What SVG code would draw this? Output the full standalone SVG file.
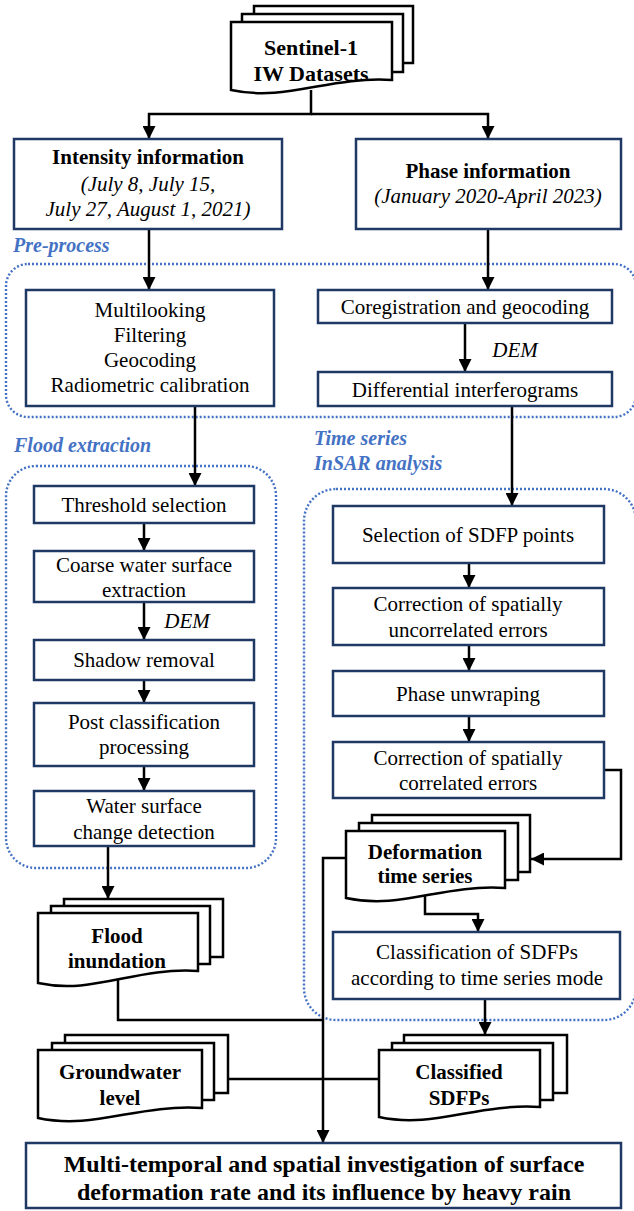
<svg xmlns="http://www.w3.org/2000/svg" width="634" height="1211" viewBox="0 0 634 1211">
<style>
.bg{fill:#ffffff}
.region{fill:none;stroke:#4472C4;stroke-width:2.4;stroke-dasharray:2 2}
.box{fill:#ffffff;stroke:#1F3864;stroke-width:2.5}
.doc{fill:#ffffff;stroke:#000000;stroke-width:2.5}
.conn{fill:none;stroke:#000000;stroke-width:2.5}
.arr{marker-end:url(#ah)}
text{font-family:"Liberation Serif","Times New Roman",serif;fill:#000000;text-anchor:middle}
.t{font-size:21px}
.b{font-size:21px;font-weight:bold}
.i{font-size:21px;font-style:italic}
.lbl{font-size:20px;font-weight:bold;font-style:italic;fill:#4472C4;text-anchor:start}
.big{font-size:24px;font-weight:bold}
</style>
<defs>
<marker id="ah" markerUnits="userSpaceOnUse" markerWidth="13" markerHeight="13" refX="13" refY="6.5" orient="auto">
<path d="M0,0 L13,6.5 L0,13 Z" fill="#000000"/>
</marker>
</defs>
<rect class="bg" x="0" y="0" width="634" height="1211"/>

<g id="regions">
<rect class="region" x="6" y="264" width="630" height="153" rx="22"/>
<rect class="region" x="6" y="466" width="270" height="402" rx="30"/>
<rect class="region" x="304" y="489" width="332" height="531" rx="32"/>
<text class="lbl" x="13" y="252">Pre-process</text>
<text class="lbl" x="14" y="452">Flood extraction</text>
<text class="lbl" x="314" y="445">Time series</text>
<text class="lbl" x="314" y="470">InSAR analysis</text>
</g>

<g id="connectors">
<path class="conn arr" d="M311,90 V114 H149 V139"/>
<path class="conn arr" d="M311,114 H488 V139"/>
<path class="conn arr" d="M149,229 V290"/>
<path class="conn arr" d="M488,229 V290"/>
<path class="conn arr" d="M465,323 V372"/>
<path class="conn arr" d="M195,406 V486"/>
<path class="conn arr" d="M512,406 V506"/>
<path class="conn arr" d="M144,523 V551"/>
<path class="conn arr" d="M144,602 V640"/>
<path class="conn arr" d="M144,680 V703"/>
<path class="conn arr" d="M144,766 V791"/>
<path class="conn arr" d="M108,846 V899"/>
<path class="conn arr" d="M469,563 V588"/>
<path class="conn arr" d="M469,645 V671"/>
<path class="conn arr" d="M469,716 V742"/>
<path class="conn arr" d="M604,770 H621 V859 H531"/>
<path class="conn arr" d="M425,890 V914 H478 V932"/>
<path class="conn arr" d="M485,999 V1035"/>
<path class="conn" d="M118,975 V1020 H323"/>
<path class="conn arr" d="M350,858 H323 V1143"/>
<path class="conn" d="M220,1079 H385"/>
<text class="i" x="515" y="357">DEM</text>
<text class="i" x="187" y="628">DEM</text>
</g>

<g id="sentinel">
<rect class="doc" x="254" y="6" width="159" height="57"/>
<rect class="doc" x="242" y="14" width="161" height="58"/>
<path class="doc" d="M231,22 H392 V80 C328,76 287,102 231,90 Z"/>
<text class="b" x="311" y="55" style="font-size:22px">Sentinel-1</text>
<text class="b" x="311" y="81" style="font-size:22px">IW Datasets</text>
</g>

<g id="intensity">
<rect class="box" x="14" y="139" width="268" height="90"/>
<text class="b" x="148" y="164">Intensity information</text>
<text class="i" x="148" y="191">(July 8, July 15,</text>
<text class="i" x="148" y="216">July 27, August 1, 2021)</text>
</g>

<g id="phase">
<rect class="box" x="356" y="139" width="265" height="90"/>
<text class="b" x="488" y="178">Phase information</text>
<text class="i" x="488" y="203">(January 2020-April 2023)</text>
</g>

<g id="multilooking">
<rect class="box" x="26" y="290" width="248" height="116"/>
<text class="t" x="150" y="317">Multilooking</text>
<text class="t" x="150" y="342">Filtering</text>
<text class="t" x="150" y="367">Geocoding</text>
<text class="t" x="150" y="392">Radiometric calibration</text>
</g>

<g id="coregistration">
<rect class="box" x="318" y="290" width="294" height="33"/>
<text class="t" x="465" y="314">Coregistration and geocoding</text>
</g>

<g id="differential">
<rect class="box" x="318" y="372" width="294" height="34"/>
<text class="t" x="465" y="397">Differential interferograms</text>
</g>

<g id="threshold">
<rect class="box" x="34" y="486" width="220" height="37"/>
<text class="t" x="144" y="512">Threshold selection</text>
</g>

<g id="coarse">
<rect class="box" x="34" y="551" width="220" height="51"/>
<text class="t" x="144" y="572">Coarse water surface</text>
<text class="t" x="144" y="597">extraction</text>
</g>

<g id="shadow">
<rect class="box" x="34" y="640" width="220" height="40"/>
<text class="t" x="144" y="667">Shadow removal</text>
</g>

<g id="postclass">
<rect class="box" x="34" y="703" width="220" height="63"/>
<text class="t" x="144" y="729">Post classification</text>
<text class="t" x="144" y="754">processing</text>
</g>

<g id="waterchange">
<rect class="box" x="34" y="791" width="220" height="55"/>
<text class="t" x="144" y="813">Water surface</text>
<text class="t" x="144" y="839">change detection</text>
</g>

<g id="selection">
<rect class="box" x="333" y="506" width="271" height="57"/>
<text class="t" x="468" y="542">Selection of SDFP points</text>
</g>

<g id="uncorrelated">
<rect class="box" x="333" y="588" width="271" height="57"/>
<text class="t" x="468" y="611">Correction of spatially</text>
<text class="t" x="468" y="637">uncorrelated errors</text>
</g>

<g id="unwrapping">
<rect class="box" x="333" y="671" width="271" height="45"/>
<text class="t" x="468" y="701">Phase unwraping</text>
</g>

<g id="correlated">
<rect class="box" x="333" y="742" width="271" height="56"/>
<text class="t" x="468" y="765">Correction of spatially</text>
<text class="t" x="468" y="790">correlated errors</text>
</g>

<g id="deformation">
<rect class="doc" x="372" y="815" width="158" height="57"/>
<rect class="doc" x="359" y="823" width="159" height="57"/>
<path class="doc" d="M346,831 H505 V888 C441,884 402,910 346,898 Z"/>
<text class="b" x="425" y="859">Deformation</text>
<text class="b" x="425" y="883">time series</text>
</g>

<g id="classification">
<rect class="box" x="333" y="932" width="287" height="67"/>
<text class="t" x="477" y="959">Classification of SDFPs</text>
<text class="t" x="477" y="985">according to time series mode</text>
</g>

<g id="flood">
<rect class="doc" x="64" y="899" width="159" height="58"/>
<rect class="doc" x="51" y="906" width="159" height="58"/>
<path class="doc" d="M38,913 H198 V971 C134,967 94,995 38,983 Z"/>
<text class="b" x="117" y="943">Flood</text>
<text class="b" x="117" y="968">inundation</text>
</g>

<g id="groundwater">
<rect class="doc" x="65" y="1035" width="163" height="58"/>
<rect class="doc" x="52" y="1043" width="162" height="57"/>
<path class="doc" d="M38,1050 H202 V1108 C136,1104 95,1130 38,1118 Z"/>
<text class="b" x="120" y="1079">Groundwater</text>
<text class="b" x="120" y="1105">level</text>
</g>

<g id="classified">
<rect class="doc" x="404" y="1035" width="163" height="58"/>
<rect class="doc" x="392" y="1043" width="161" height="57"/>
<path class="doc" d="M379,1050 H540 V1107 C476,1103 435,1129 379,1117 Z"/>
<text class="b" x="459" y="1079">Classified</text>
<text class="b" x="459" y="1105">SDFPs</text>
</g>

<g id="final">
<rect class="box" x="26" y="1143" width="595" height="65"/>
<text class="big" x="324" y="1172">Multi-temporal and spatial investigation of surface</text>
<text class="big" x="324" y="1200">deformation rate and its influence by heavy rain</text>
</g>
</svg>
